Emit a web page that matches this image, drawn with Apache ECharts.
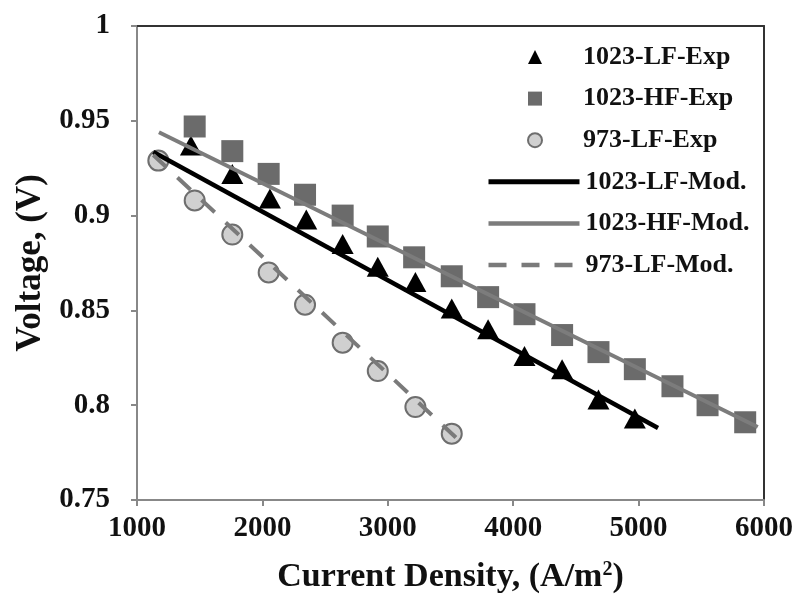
<!DOCTYPE html>
<html>
<head>
<meta charset="utf-8">
<script src="https://cdn.jsdelivr.net/npm/echarts@6/dist/echarts.min.js"></script>
<style>html,body{margin:0;padding:0;background:#fff;}#c{width:798px;height:602px;}</style>
</head>
<body>
<div id="c"></div>
<script>
// Experimental data
const lf1023X = [1430, 1760, 2060, 2350, 2640, 2920, 3220, 3510, 3800, 4090, 4390, 4680, 4970];
const lf1023Y = [0.937, 0.922, 0.909, 0.898, 0.885, 0.873, 0.865, 0.851, 0.840, 0.826, 0.819, 0.803, 0.793];
const hf1023X = [1460, 1760, 2050, 2340, 2640, 2920, 3210, 3510, 3800, 4090, 4390, 4680, 4970, 5270, 5550, 5850];
const hf1023Y = [0.947, 0.934, 0.922, 0.911, 0.900, 0.889, 0.878, 0.868, 0.857, 0.848, 0.837, 0.828, 0.819, 0.810, 0.800, 0.791];
const lf973X = [1170, 1460, 1760, 2050, 2340, 2640, 2920, 3220, 3510];
const lf973Y = [0.929, 0.908, 0.890, 0.870, 0.853, 0.833, 0.818, 0.799, 0.785];
// Model lines
const lf1023ModX = [1130, 5155];
const lf1023ModY = [0.9335, 0.788];
const hf1023ModX = [1175, 5950];
const hf1023ModY = [0.944, 0.7885];
const lf973ModX = [1130, 3575];
const lf973ModY = [0.932, 0.781];
// Axis ticks
const xTicks = [1000, 2000, 3000, 4000, 5000, 6000];
const yTicks = [0.75, 0.8, 0.85, 0.9, 0.95, 1];

const names = ['1023-LF-Exp', '1023-HF-Exp', '973-LF-Exp', '1023-LF-Mod.', '1023-HF-Mod.', '973-LF-Mod.'];
const zip = (xs, ys) => xs.map((x, i) => [x, ys[i]]);
const FONT = '"Liberation Serif", "Times New Roman", serif';
const legendText = { fontFamily: FONT, fontWeight: 'bold', fontSize: 26, color: '#111', lineHeight: 26 };
const ROW = 41.6;
const lineStyles = [
  { color: '#000000', width: 4.5, type: 'solid' },
  { color: '#7c7c7c', width: 4, type: 'solid' },
  { color: '#7a7a7a', width: 4, type: [18, 15] }
];

const chart = echarts.init(document.getElementById('c'));
chart.setOption({
  animation: false,
  backgroundColor: '#ffffff',
  grid: { left: 137, right: 34, top: 26, bottom: 102, containLabel: false },
  legend: [{
    orient: 'vertical',
    left: 522,
    top: 39,
    itemWidth: 14,
    itemHeight: 14,
    itemGap: ROW - 26,
    data: names.slice(0, 3),
    textStyle: Object.assign({}, legendText, { padding: [0, 0, 0, 36] })
  }, {
    orient: 'vertical',
    left: 481,
    top: 39 + 3 * ROW,
    itemWidth: 91,
    itemHeight: 14,
    itemGap: ROW - 26,
    data: names.slice(3).map((n, i) => ({ name: n,
      itemStyle: { color: 'rgba(0,0,0,0)', borderWidth: 0, opacity: 0 },
      lineStyle: Object.assign({}, lineStyles[i], { width: lineStyles[i].width + 0.5 }) })),
    textStyle: Object.assign({}, legendText, { padding: [0, 0, 0, 1] })
  }],
  xAxis: [{
    type: 'value', min: xTicks[0], max: xTicks[xTicks.length - 1], interval: 1000,
    name: 'Current Density, (A/m{sup|2})', nameLocation: 'middle', nameGap: 60,
    nameTextStyle: { fontFamily: FONT, fontWeight: 'bold', fontSize: 34, color: '#111', lineHeight: 34,
      rich: { sup: { fontFamily: FONT, fontWeight: 'bold', fontSize: 20, color: '#111', verticalAlign: 'top', lineHeight: 34, padding: [0, 0, 12, 0] } } },
    axisLine: { show: true, lineStyle: { color: '#888', width: 2 } },
    axisTick: { show: true, inside: false, length: 6, lineStyle: { color: '#888', width: 2 } },
    axisLabel: { fontFamily: FONT, fontWeight: 'bold', fontSize: 29, color: '#111', margin: 14,
      formatter: v => String(v) },
    splitLine: { show: false }
  }, {
    type: 'value', position: 'top', min: xTicks[0], max: xTicks[xTicks.length - 1], interval: 1000,
    axisLine: { show: true, lineStyle: { color: '#333', width: 2 } },
    axisTick: { show: false }, axisLabel: { show: false }, splitLine: { show: false }
  }],
  yAxis: [{
    type: 'value', min: yTicks[0], max: yTicks[yTicks.length - 1], interval: 0.05,
    name: 'Voltage, (V)', nameLocation: 'middle', nameGap: 89, nameRotate: 90,
    nameTextStyle: { fontFamily: FONT, fontWeight: 'bold', fontSize: 35, color: '#111' },
    axisLine: { show: true, lineStyle: { color: '#888', width: 2 } },
    axisTick: { show: true, inside: false, length: 6, lineStyle: { color: '#888', width: 2 } },
    axisLabel: { fontFamily: FONT, fontWeight: 'bold', fontSize: 29, color: '#111', margin: 27,
      formatter: v => String(+v.toFixed(2)) },
    splitLine: { show: false }
  }, {
    type: 'value', position: 'right', min: yTicks[0], max: yTicks[yTicks.length - 1], interval: 0.05,
    axisLine: { show: true, lineStyle: { color: '#333', width: 2 } },
    axisTick: { show: false }, axisLabel: { show: false }, splitLine: { show: false }
  }],
  series: [
    { name: names[0], type: 'scatter', symbol: 'triangle', symbolSize: [22, 20], z: 2,
      itemStyle: { color: '#000000', opacity: 1 }, data: zip(lf1023X, lf1023Y) },
    { name: names[1], type: 'scatter', symbol: 'rect', symbolSize: 22, z: 2,
      itemStyle: { color: '#6b6b6b', opacity: 1 }, data: zip(hf1023X, hf1023Y) },
    { name: names[2], type: 'scatter', symbol: 'circle', symbolSize: 20, z: 2,
      itemStyle: { color: '#d0d0d0', borderColor: '#6e6e6e', borderWidth: 2, opacity: 1 }, data: zip(lf973X, lf973Y) },
    { name: names[3], type: 'line', symbol: 'none', z: 3,
      lineStyle: lineStyles[0], itemStyle: { color: lineStyles[0].color }, data: zip(lf1023ModX, lf1023ModY) },
    { name: names[4], type: 'line', symbol: 'none', z: 3,
      lineStyle: lineStyles[1], itemStyle: { color: lineStyles[1].color }, data: zip(hf1023ModX, hf1023ModY) },
    { name: names[5], type: 'line', symbol: 'none', z: 3,
      lineStyle: lineStyles[2], itemStyle: { color: lineStyles[2].color }, data: zip(lf973ModX, lf973ModY) }
  ]
});
</script>
</body>
</html>
